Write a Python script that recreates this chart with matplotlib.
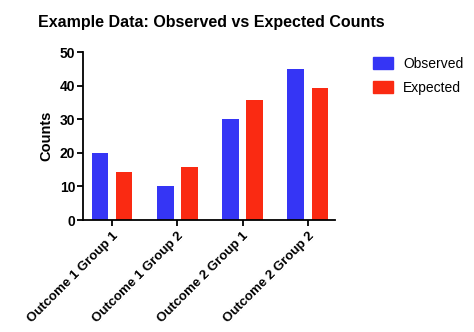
import matplotlib.pyplot as plt
import numpy as np
from matplotlib.patches import Patch

plt.rcParams["font.family"] = ["Liberation Sans", "DejaVu Sans"]

categories = ["Outcome 1 Group 1", "Outcome 1 Group 2", "Outcome 2 Group 1", "Outcome 2 Group 2"]
observed = [20, 10, 30, 45]
expected = [14.3, 15.7, 35.7, 39.3]
series_names = ["Observed", "Expected"]
series_colors = ["#3535F5", "#FA2A12"]

fig = plt.figure(figsize=(4.74, 3.32), dpi=100)
ax = fig.add_axes([83 / 474, 1 - 220 / 332, (335 - 83) / 474, (220 - 52) / 332])

x = np.arange(len(categories))
width = 0.25
offset = 0.185
ax.bar(x - offset, observed, width, color=series_colors[0])
ax.bar(x + offset, expected, width, color=series_colors[1])

ax.set_xlim(-0.45, 3.42)
ax.set_ylim(0, 50)
ax.set_yticks(range(0, 51, 10))
ax.set_xticks(x)
ax.set_xticklabels(categories, rotation=45, ha="right", rotation_mode="anchor",
                   fontsize=9.5, fontweight="bold")
for lab in ax.get_yticklabels():
    lab.set_fontweight("bold")
ax.tick_params(axis="y", labelsize=10, length=4, width=1.3, pad=1.5)
ax.tick_params(axis="x", length=4, width=1.3, pad=3)

for side in ("top", "right"):
    ax.spines[side].set_visible(False)
for side in ("left", "bottom"):
    ax.spines[side].set_linewidth(1.3)

ax.set_ylabel("Counts", fontsize=10.5, fontweight="bold", labelpad=5)
fig.text(38 / 474, 1 - 22 / 332, "Example Data: Observed vs Expected Counts",
         fontsize=11.5, fontweight="bold", va="center", ha="left")

# legend sits to the right of the plot area, no frame
handles = [Patch(color=c, label=n) for c, n in zip(series_colors, series_names)]
fig.legend(handles=handles, loc="upper left", bbox_to_anchor=(360 / 474, 1 - 44 / 332),
           frameon=False, fontsize=10, handlelength=1.5, handleheight=1.0,
           handletextpad=0.7, labelspacing=0.75)

fig.savefig("out.png", dpi=100)
